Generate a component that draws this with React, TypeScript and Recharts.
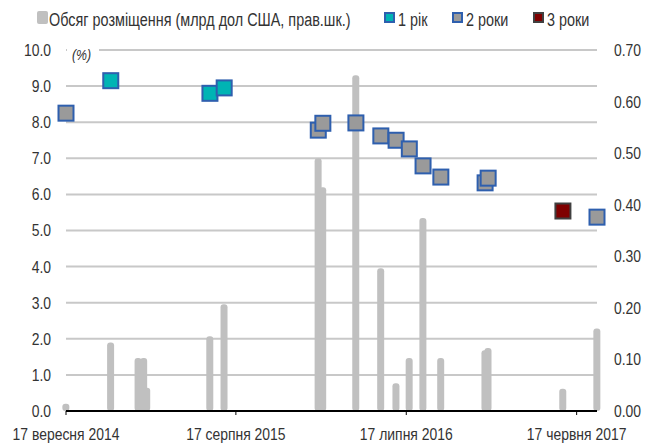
import { ComposedChart, Bar, Scatter, XAxis, YAxis, CartesianGrid } from "recharts";

// Arial-metric font squeezed horizontally to look like Arial Narrow
const FONT = "'Liberation Sans', Arial, sans-serif";
const NARROW = 0.82;

// day 0 of the time axis
const START = "2014-09-17";

// placement volume, bn USD (right axis)
const volumeDates = [
  "2014-09-17", "2014-12-14", "2015-02-06", "2015-02-17", "2015-02-23",
  "2015-06-27", "2015-07-25", "2016-01-26", "2016-02-04", "2016-04-09",
  "2016-05-28", "2016-06-27", "2016-07-23", "2016-08-19", "2016-09-23",
  "2016-12-19", "2016-12-25", "2017-05-21", "2017-07-27",
];
const volumeValues = [
  0.014, 0.133, 0.103, 0.103, 0.045,
  0.145, 0.207, 0.49, 0.434, 0.651,
  0.277, 0.054, 0.103, 0.374, 0.103,
  0.118, 0.122, 0.043, 0.16,
];

// yields, % (left axis)
const oneYearDates = ["2014-12-14", "2015-06-27", "2015-07-25"];
const oneYearRates = [9.15, 8.8, 8.95];

const twoYearDates = [
  "2014-09-17", "2016-01-26", "2016-02-04", "2016-04-09", "2016-05-28",
  "2016-06-27", "2016-07-23", "2016-08-19", "2016-09-23", "2016-12-19",
  "2016-12-25", "2017-07-27",
];
const twoYearRates = [8.25, 7.78, 7.97, 7.98, 7.62, 7.5, 7.26, 6.79, 6.48, 6.32, 6.45, 5.37];

const threeYearDates = ["2017-05-21"];
const threeYearRates = [5.54];

const tickDates = ["2014-09-17", "2015-08-17", "2016-07-17", "2017-06-17"];
const tickLabels = ["17 вересня 2014", "17 серпня 2015", "17 липня 2016", "17 червня 2017"];

const leftTicks = [0, 1, 2, 3, 4, 5, 6, 7, 8, 9, 10];
const rightTicks = [0, 0.1, 0.2, 0.3, 0.4, 0.5, 0.6, 0.7];

const dayOf = (d: string) => Math.round((Date.parse(d) - Date.parse(START)) / 86400000);

const barData = volumeDates.map((d, i) => ({ day: dayOf(d), vol: volumeValues[i] }));
const toPoints = (dates: string[], rates: number[]) =>
  dates.map((d, i) => ({ day: dayOf(d), rate: rates[i] }));

const xTicks = tickDates.map(dayOf);
const lastDay = dayOf(volumeDates[volumeDates.length - 1]);

const BarShape = (p: any) => {
  const { x, y, width, height } = p;
  if (y == null || height == null || isNaN(y)) return null;
  const cx = x + width / 2;
  return <rect x={cx - 3.5} y={y} width={7} height={height} rx={3} fill="#c0c0c0" />;
};

const square = (fill: string, stroke: string) => (p: any) =>
  <rect x={p.cx - 7.5} y={p.cy - 7.5} width={15} height={15} fill={fill} stroke={stroke} strokeWidth={2} />;

// narrow tick text
const narrowTick = (anchor: "start" | "middle" | "end", dy: string, fmt: (v: number) => string) => (p: any) => (
  <text
    transform={`translate(${p.x},${p.y}) scale(${NARROW},1)`}
    textAnchor={anchor}
    dy={dy}
    fontSize={17}
    fill="#333"
    fontFamily={FONT}
  >
    {fmt(p.payload.value)}
  </text>
);

const legendText: React.CSSProperties = {
  position: "absolute", top: 10, fontSize: 18, color: "#333", whiteSpace: "nowrap",
  transform: "scaleX(0.8)", transformOrigin: "left top",
};
const boxMarker = (left: number, fill: string, border: string): React.CSSProperties => ({
  position: "absolute", left, top: 12, width: 7, height: 7, background: fill, border: `2px solid ${border}`,
});

export default function App() {
  return (
    <div style={{ position: "absolute", left: 0, top: 0, width: 657, height: 445, background: "#fff", fontFamily: FONT }}>
      <div style={{ position: "absolute", left: 37, top: 11, width: 11, height: 13, background: "#c0c0c0", borderRadius: 2 }} />
      <span style={{ ...legendText, left: 49 }}>Обсяг розміщення (млрд дол США, прав.шк.)</span>
      <div style={boxMarker(384, "#00b4b4", "#2e5fae")} />
      <span style={{ ...legendText, left: 398 }}>1 рік</span>
      <div style={boxMarker(452, "#9a9a9a", "#2e5fae")} />
      <span style={{ ...legendText, left: 466 }}>2 роки</span>
      <div style={boxMarker(533, "#7f0000", "#404040")} />
      <span style={{ ...legendText, left: 547 }}>3 роки</span>

      <ComposedChart
        width={657}
        height={445}
        data={barData}
        margin={{ top: 50, right: 10, bottom: 4, left: 10 }}
        style={{ position: "absolute", left: 0, top: 0, fontFamily: FONT }}
      >
        <CartesianGrid yAxisId="left" vertical={false} stroke="#c8c8c8" strokeWidth={2} />
        <XAxis
          dataKey="day"
          type="number"
          domain={[0, lastDay]}
          ticks={xTicks}
          axisLine={{ stroke: "#000", strokeWidth: 2 }}
          tickLine={{ stroke: "#000" }}
          tickSize={4}
          tickMargin={13}
          height={30}
          interval={0}
          tick={narrowTick("middle", "0.71em", (v) => tickLabels[xTicks.indexOf(v)] ?? "")}
        />
        <YAxis
          yAxisId="left"
          domain={[0, 10]}
          ticks={leftTicks}
          axisLine={false}
          tickLine={false}
          tickSize={0}
          tickMargin={15}
          width={56}
          interval={0}
          tick={narrowTick("end", "0.35em", (v) => v.toFixed(1))}
        />
        <YAxis
          yAxisId="right"
          orientation="right"
          domain={[0, 0.7]}
          ticks={rightTicks}
          axisLine={false}
          tickLine={false}
          tickSize={0}
          tickMargin={17}
          width={50}
          interval={0}
          tick={narrowTick("start", "0.35em", (v) => v.toFixed(2))}
        />
        <Bar yAxisId="right" dataKey="vol" barSize={7} shape={BarShape} isAnimationActive={false} />
        <Scatter yAxisId="left" data={toPoints(twoYearDates, twoYearRates)} dataKey="rate" shape={square("#9a9a9a", "#2e5fae")} isAnimationActive={false} />
        <Scatter yAxisId="left" data={toPoints(oneYearDates, oneYearRates)} dataKey="rate" shape={square("#00b4b4", "#2e5fae")} isAnimationActive={false} />
        <Scatter yAxisId="left" data={toPoints(threeYearDates, threeYearRates)} dataKey="rate" shape={square("#7f0000", "#404040")} isAnimationActive={false} />
      </ComposedChart>

      <div style={{ position: "absolute", left: 67, top: 46, width: 32, height: 22, background: "#fff", boxSizing: "border-box", paddingLeft: 5 }}>
        <span style={{ display: "inline-block", fontStyle: "italic", fontSize: 15, color: "#333", transform: `scaleX(${NARROW})`, transformOrigin: "left top" }}>(%)</span>
      </div>
    </div>
  );
}
